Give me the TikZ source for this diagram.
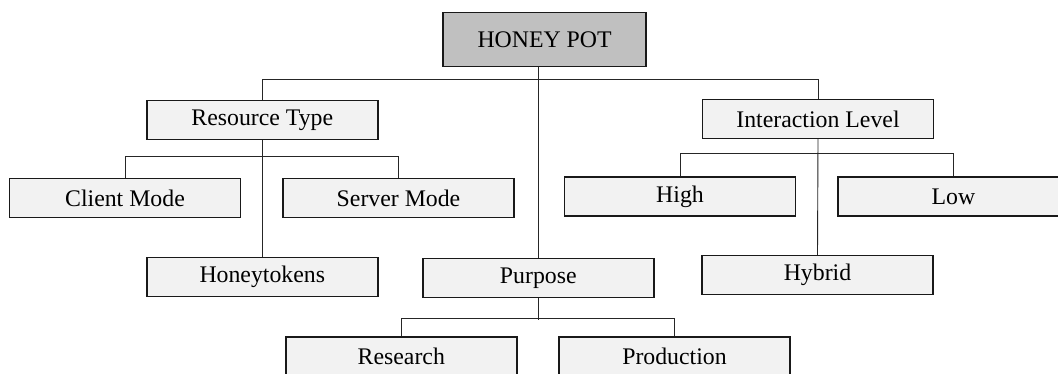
\documentclass[tikz,border=0pt]{standalone}
\usepackage{fontspec}
\setmainfont{Liberation Serif}
\definecolor{boxgray}{HTML}{F2F2F2}
\definecolor{rootgray}{HTML}{C0C0C0}
\begin{document}
\begin{tikzpicture}[x=1pt,y=-1pt,
  box/.style={draw=black!90, line width=1.4pt, fill=boxgray, minimum width=231pt,
    minimum height=39pt, inner sep=0pt, font=\fontsize{23.8}{28}\selectfont},
  root/.style={box, fill=rootgray, minimum width=203pt, minimum height=54pt},
  link/.style={draw=black!85, line width=0.9pt}]
\useasboundingbox (0,0) rectangle (1058,373);
\clip (0,0) rectangle (1058,373);
\fill[white] (0,0) rectangle (1058,373);
\node[root] (hp)  at (544.6,39.4) {HONEY POT};
\node[box]  (rt)  at (262.3,120)  {Resource Type};
\node[box]  (il)  at (818,119)    {Interaction Level};
\node[box]  (cm)  at (125,198)    {Client Mode};
\node[box]  (sm)  at (398.5,198)  {Server Mode};
\node[box]  (ht)  at (262.3,277)  {Honeytokens};
\node[box]  (pur) at (538.3,278)  {Purpose};
\node[box]  (hi)  at (680,196.5)  {High};
\node[box]  (lo)  at (953.5,196.5){Low};
\node[box]  (hy)  at (817.5,275)  {Hybrid};
\node[box]  (re)  at (401.3,356.5){Research};
\node[box]  (pr)  at (674.5,356.5){Production};
\draw[link] (hp.south -| pur.north) -- (pur.north);
\draw[link] (rt.north) -- ++(0,-20) -| (il.north);
\draw[link] (cm.north) -- ++(0,-21) -| (sm.north);
\draw[link] (rt.south) -- (ht.north);
\draw[link] (hi.north) -- ++(0,-23) -| (lo.north);
\draw[link] (il.south) -- (hy.north);
\draw[link] (re.north) -- ++(0,-17.5) -| (pr.north);
\draw[link] (pur.south) -- ++(0,21.5);
\end{tikzpicture}
\end{document}
